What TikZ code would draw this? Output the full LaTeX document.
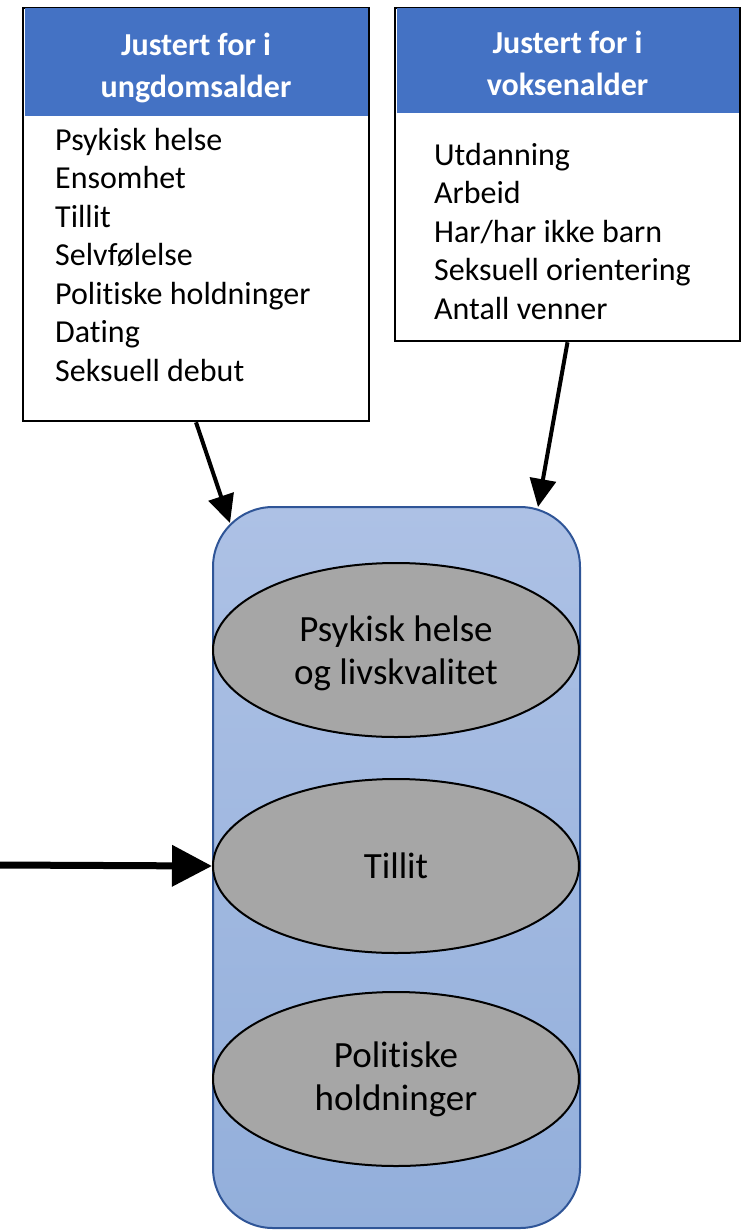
\documentclass[tikz,border=0pt]{standalone}
\usepackage{fontspec}
\setmainfont[Ligatures=NoCommon]{Carlito}
\usepackage{tikz}
\usetikzlibrary{positioning,shapes,arrows.meta}

\definecolor{headblue}{HTML}{4472C4}
\definecolor{grptop}{HTML}{ADC1E5}
\definecolor{grpbot}{HTML}{93AFDB}
\definecolor{grpline}{HTML}{2F5597}
\definecolor{ovalgray}{HTML}{A6A6A6}

\begin{document}
\begin{tikzpicture}[
  x=1pt, y=-1pt,
  frame/.style={draw,line width=2.5pt,inner sep=0pt},
  headbox/.style={fill=headblue,text=white,font=\bfseries\fontsize{32}{42}\selectfont,
    align=center,inner sep=0pt,text height=70pt,text depth=0pt},
  listtxt/.style={anchor=north west,align=left,inner sep=0pt,
    font=\fontsize{32}{38.5}\selectfont},
  grpbox/.style={draw=grpline,line width=2pt,rounded corners=60pt,
    top color=grptop,bottom color=grpbot,minimum width=367pt,minimum height=721pt},
  oval/.style={draw,ellipse,fill=ovalgray,line width=2pt,inner sep=0pt,
    minimum width=366pt,minimum height=174pt,align=center,
    font=\fontsize{37}{43}\selectfont},
  arr/.style={line width=4pt,-{Triangle[length=28pt,width=26pt]}},
  bigarr/.style={line width=7pt,-{Triangle[length=40pt,width=40pt]}}
]
\useasboundingbox (0,0) rectangle (743,1232);

% adjusted for in youth
\node[frame,minimum width=346pt,minimum height=413pt] (ungBox) at (196,214.5) {};
\node[headbox,minimum width=343pt,minimum height=108pt,anchor=north]
  (ungH) at ([yshift=-1.5pt]ungBox.north) {Justert for i\\ungdomsalder};
\node[listtxt] (ungL) at (55,128) {Psykisk helse\\Ensomhet\\Tillit\\Selvfølelse\\
  Politiske holdninger\\Dating\\Seksuell debut};

% adjusted for in adulthood
\node[frame,minimum width=345pt,minimum height=333pt] (vokBox) at (567.5,174.5) {};
\node[headbox,minimum width=342pt,minimum height=105pt,anchor=north]
  (vokH) at ([yshift=-1.5pt]vokBox.north) {Justert for i\\voksenalder};
\node[listtxt] (vokL) at (434,143) {Utdanning\\Arbeid\\Har/har ikke barn\\
  Seksuell orientering\\Antall venner};

% outcomes
\node[grpbox] (grp) at (396.5,867.5) {};
\node[oval,text depth=0pt] (psyk) at (396,650) {Psykisk helse\\og livskvalitet};
\node[oval,below=40pt of psyk] (tillit) {Tillit};
\node[oval,below=37pt of tillit] (polit) {Politiske\\holdninger};

\coordinate (ungTip) at ([shift={(18,17)}]grp.north west);
\coordinate (vokTip) at ([shift={(-43,1)}]grp.north east);
\coordinate (src) at (0,865);

\path (ungBox.south) edge[arr] (ungTip)
(vokBox.south) edge[arr] (vokTip);
\draw[bigarr] (src) -- (tillit.west);

\end{tikzpicture}
\end{document}
